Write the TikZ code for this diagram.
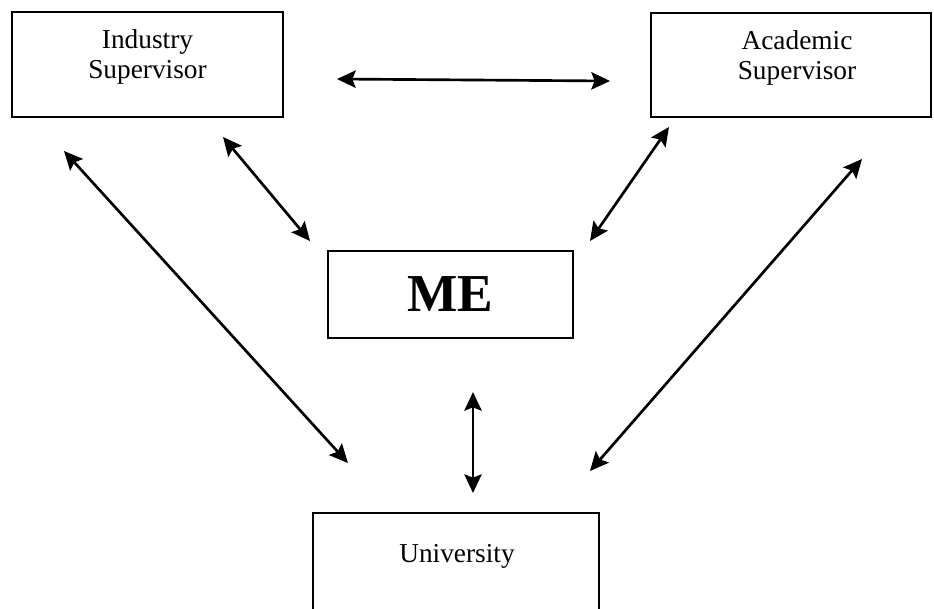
\documentclass[tikz,border=0pt]{standalone}
\usepackage{fontspec}
\setmainfont{Liberation Serif}
\usetikzlibrary{arrows.meta}
\begin{document}
\begin{tikzpicture}[x=0.75pt, y=-0.75pt,
    box/.style={draw, line width=1.4pt, rectangle, inner sep=0pt},
    lbl/.style={align=center, font=\fontsize{20.5}{22.5}\selectfont},
    link/.style={line width=2pt, {Stealth[length=14pt, width=13pt, inset=2.5pt]}-{Stealth[length=14pt, width=13pt, inset=2.5pt]}}]
    \useasboundingbox (0,0) rectangle (934,608);
    \clip (0,0) rectangle (934,608);
        \node[box, minimum width=203.25pt, minimum height=78.75pt] (indsup) at (147.5,64.5) {};
        \node[box, minimum width=210pt, minimum height=78pt] (acasup) at (791,65) {};
        \node[box, minimum width=183.75pt, minimum height=65.25pt, font=\fontsize{40}{42}\selectfont\bfseries] (me) at (450.5,294.5) {ME};
        \node[box, minimum width=214.5pt, minimum height=80.25pt] (uni) at (456,566.5) {};
        \node[lbl] (indtext) at (147.5,57) {Industry\\Supervisor};
        \node[lbl] (acatext) at (797,58) {Academic\\Supervisor};
        \node[lbl] (unitext) at (457,556) {University};
        \coordinate (hl) at (337,79);
        \coordinate (hr) at (610,81);
        \coordinate (indme) at (223,137);
        \coordinate (meind) at (310,241);
        \coordinate (acame) at (669,127);
        \coordinate (meaca) at (590,241);
        \coordinate (induni) at (64,151);
        \coordinate (uniind) at (348,463);
        \coordinate (acauni) at (862,159);
        \coordinate (uniaca) at (590,471);
        \coordinate (meuni) at (473,392);
        \coordinate (unime) at (473,493);
        \draw[link] (hl) -- (hr);
        \draw[link] (indme) -- (meind);
        \draw[link] (acame) -- (meaca);
        \draw[link] (induni) -- (uniind);
        \draw[link] (acauni) -- (uniaca);
        \draw[link] (meuni) -- (unime);
    \end{tikzpicture}
\end{document}
